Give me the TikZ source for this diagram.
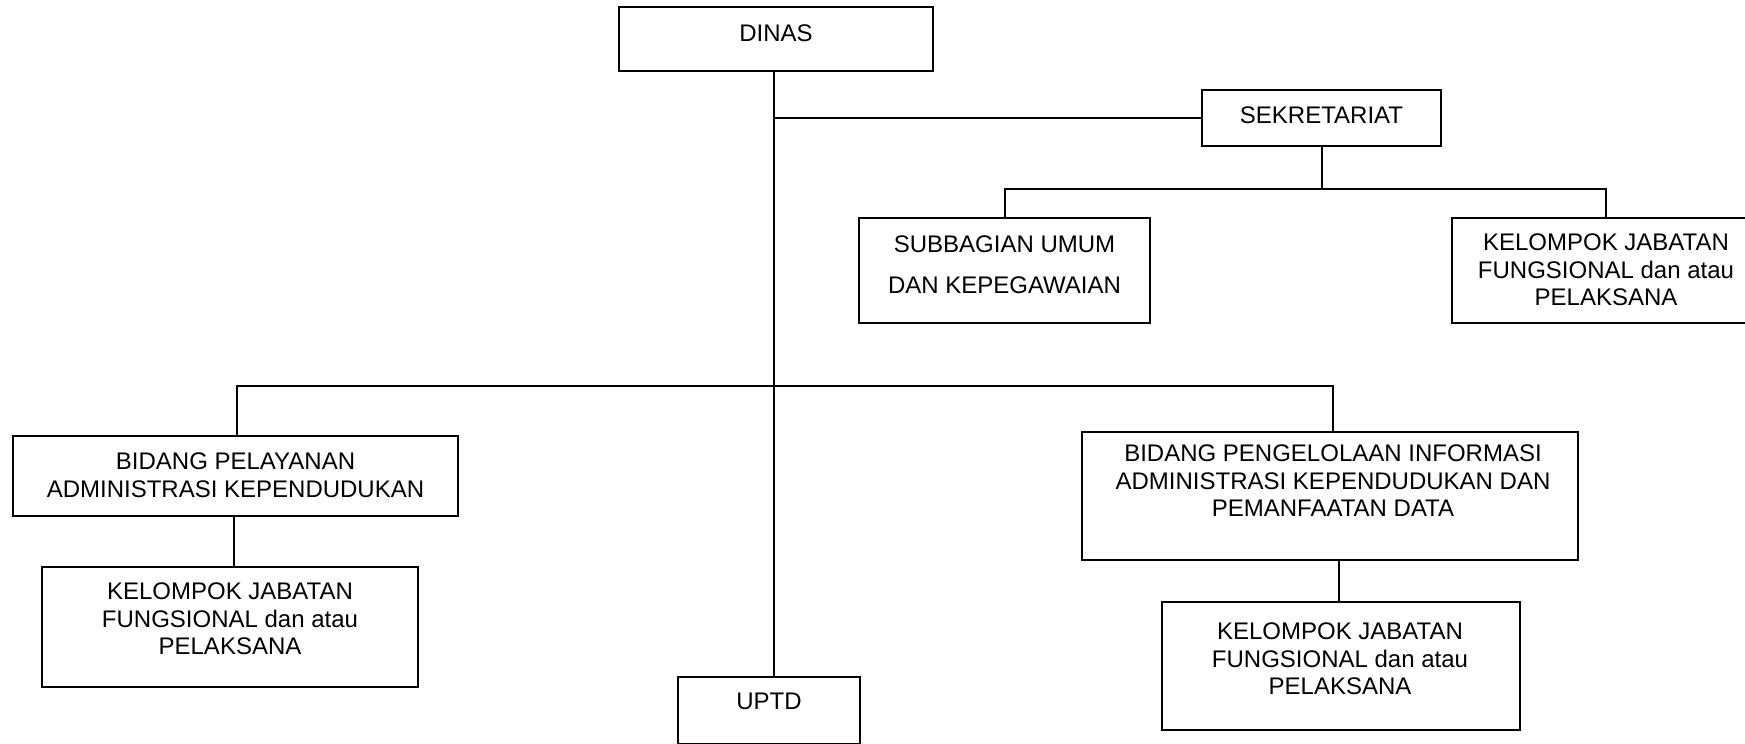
\documentclass[tikz,border=0pt]{standalone}
\usepackage{fontspec}
\setmainfont{Liberation Sans}
\begin{document}
\begin{tikzpicture}[x=1pt,y=-1pt,
  box/.style={draw, line width=2pt, rectangle, inner sep=0pt},
  txt/.style={anchor=north, inner sep=0pt, align=center, font=\fontsize{24}{27.5}\selectfont},
  conn/.style={line width=2pt}]
\useasboundingbox (0,0) rectangle (1745,744);
% boxes
\node[box, minimum width=314pt, minimum height=64pt]  (dinas) at (776,39) {};
\node[box, minimum width=239pt, minimum height=56pt]  (sek)   at (1321.5,118) {};
\node[box, minimum width=291pt, minimum height=105pt] (sub)   at (1004.5,270.5) {};
\node[box, minimum width=308pt, minimum height=105pt] (kjr)   at (1606,270.5) {};
\node[box, minimum width=445pt, minimum height=80pt]  (bpa)   at (235.5,476) {};
\node[box, minimum width=376pt, minimum height=120pt] (kjl)   at (230,627) {};
\node[box, minimum width=496pt, minimum height=128pt] (bpi)   at (1330,496) {};
\node[box, minimum width=358pt, minimum height=128pt] (kjb)   at (1341,666) {};
\node[box, minimum width=182pt, minimum height=67pt]  (uptd)  at (769,710.5) {};
% texts
\node[txt] (tdinas) at (776,25) {DINAS};
\node[txt] (tsek)   at (1321.5,107) {SEKRETARIAT};
\node[txt] (tsub)   at (1004.5,236) {SUBBAGIAN UMUM\\[13.5pt]DAN KEPEGAWAIAN};
\node[txt] (tkjr)   at (1606,234) {KELOMPOK JABATAN\\FUNGSIONAL dan atau\\PELAKSANA};
\node[txt] (tbpa)   at (235.5,453) {BIDANG PELAYANAN\\ADMINISTRASI KEPENDUDUKAN};
\node[txt] (tkjl)   at (230,583) {KELOMPOK JABATAN\\FUNGSIONAL dan atau\\PELAKSANA};
\node[txt] (tbpi)   at (1333,445) {BIDANG PENGELOLAAN INFORMASI\\ADMINISTRASI KEPENDUDUKAN DAN\\PEMANFAATAN DATA};
\node[txt] (tkjb)   at (1340,623) {KELOMPOK JABATAN\\FUNGSIONAL dan atau\\PELAKSANA};
\node[txt] (tuptd)  at (769,693) {UPTD};
% connectors
\coordinate (sekbus) at (1321.5,189);
\coordinate (mainbus) at (774,386);
\draw[conn] ([xshift=-2pt]dinas.south) -- ([xshift=-2pt]dinas.south |- uptd.north);
\draw[conn] ([xshift=-2pt]dinas.south |- sek.west) -- (sek.west);
\draw[conn] (sek.south) -- (sekbus);
\draw[conn] (sub.north) |- (sekbus) -| (kjr.north);
\draw[conn] ([xshift=1.5pt]bpa.north) |- (mainbus) -| ([xshift=3pt]bpi.north);
\draw[conn] ([xshift=-1.5pt]bpa.south) -- ([xshift=-1.5pt]bpa.south |- kjl.north);
\draw[conn] ([xshift=9pt]bpi.south) -- ([xshift=9pt]bpi.south |- kjb.north);
\end{tikzpicture}
\end{document}
